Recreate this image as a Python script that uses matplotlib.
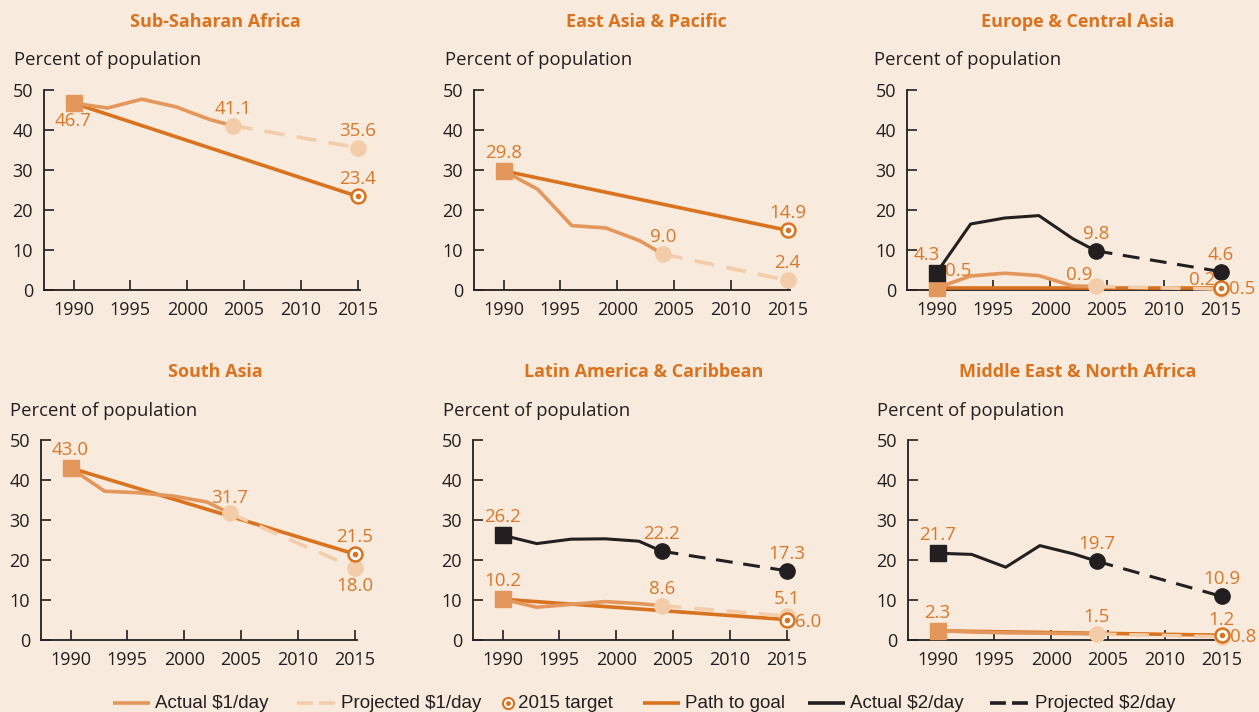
import matplotlib
matplotlib.use("Agg")
import matplotlib.pyplot as plt
from matplotlib.lines import Line2D

# ---------------- data ----------------
regions = ["Sub-Saharan Africa", "East Asia & Pacific", "Europe & Central Asia",
           "South Asia", "Latin America & Caribbean", "Middle East & North Africa"]
actual_years = [1990, 1993, 1996, 1999, 2002, 2004]
proj_years = [2004, 2015]
path_years = [1990, 2015]

actual_1 = [
    [46.7, 45.5, 47.7, 45.8, 42.6, 41.1],
    [29.8, 25.2, 16.1, 15.5, 12.3, 9.0],
    [0.5, 3.5, 4.2, 3.6, 1.0, 0.9],
    [43.0, 37.2, 36.8, 36.0, 34.5, 31.7],
    [10.2, 8.2, 8.9, 9.6, 9.1, 8.6],
    [2.3, 2.0, 1.8, 1.7, 1.6, 1.5],
]
proj_1_2015 = [35.6, 2.4, 0.2, 18.0, 6.0, 0.8]
target_2015 = [23.4, 14.9, 0.5, 21.5, 5.1, 1.2]
actual_2 = [
    None,
    None,
    [4.3, 16.5, 18.0, 18.6, 12.8, 9.8],
    None,
    [26.2, 24.1, 25.2, 25.3, 24.7, 22.2],
    [21.7, 21.4, 18.2, 23.6, 21.5, 19.7],
]
proj_2_2015 = [None, None, 4.6, None, 17.3, 10.9]

x_ticks = [1990, 1995, 2000, 2005, 2010, 2015]
y_ticks = [0, 10, 20, 30, 40, 50]
y_label = "Percent of population"
legend_labels = ["Actual $1/day", "Projected $1/day", "2015 target",
                 "Path to goal", "Actual $2/day", "Projected $2/day"]

# ---------------- style ----------------
BG = "#F8EADC"
C_ACT1 = "#E3975C"
C_PROJ1 = "#F3CCA9"
C_PATH = "#D9731F"
C_TXT = "#DA782A"
C_BLK = "#231F20"
FONT = ["Open Sans", "DejaVu Sans"]
plt.rcParams["font.family"] = FONT

W, H = 1259, 712
fig = plt.figure(figsize=(W / 100, H / 100), dpi=100, facecolor=BG)

lefts = [44, 474, 907, 41, 473, 908]
tops = [90, 90, 90, 440, 440, 440]
ax_w, ax_h = 316, 200
title_x = [215, 646, 1078, 215, 644, 1078]
title_y = [22, 22, 22, 372, 372, 372]
plab_x = [14, 445, 874, 10, 443, 877]
plab_y = [60, 60, 60, 411, 411, 411]

DASH = (0, (5.5, 3.5))


# label specs: (value, x-year, offset_px(x,y), ha, va[, y-position])
def labels_for(i):
    a1 = actual_1[i]
    if i == 0:
        return [(a1[0], 1990, (0, -9), "center", "top"),
                (a1[-1], 2004, (0, 8), "center", "bottom"),
                (proj_1_2015[i], 2015, (0, 8), "center", "bottom"),
                (target_2015[i], 2015, (0, 8), "center", "bottom")]
    if i == 1:
        return [(a1[0], 1990, (0, 9), "center", "bottom"),
                (a1[-1], 2004, (0, 8), "center", "bottom"),
                (proj_1_2015[i], 2015, (0, 8), "center", "bottom"),
                (target_2015[i], 2015, (0, 8), "center", "bottom")]
    if i == 2:
        a2 = actual_2[i]
        return [(a2[0], 1990, (-10, 9), "center", "bottom"),
                (a1[0], 1990, (22, 8), "center", "bottom"),
                (a1[-1], 2004, (-17, 2), "center", "bottom"),
                (a2[-1], 2004, (0, 8), "center", "bottom"),
                (proj_2_2015[i], 2015, (0, 8), "center", "bottom"),
                (proj_1_2015[i], 2015, (-19, 0), "center", "bottom"),
                (target_2015[i], 2015, (8, -1), "left", "center")]
    if i == 3:
        return [(a1[0], 1990, (0, 9), "center", "bottom"),
                (a1[-1], 2004, (0, 6), "center", "bottom"),
                (target_2015[i], 2015, (0, 8), "center", "bottom"),
                (proj_1_2015[i], 2015, (0, -9), "center", "top")]
    a2 = actual_2[i]
    return [(a2[0], 1990, (0, 9), "center", "bottom"),
            (a2[-1], 2004, (0, 8), "center", "bottom"),
            (proj_2_2015[i], 2015, (0, 8), "center", "bottom"),
            (a1[0], 1990, (0, 9), "center", "bottom"),
            (a1[-1], 2004, (0, 8), "center", "bottom"),
            (target_2015[i], 2015, (0, 8), "center", "bottom", proj_1_2015[i]),
            (proj_1_2015[i], 2015, (8, -2), "left", "center", target_2015[i])]


for i, name in enumerate(regions):
    l = lefts[i] / W
    b = 1 - (tops[i] + ax_h) / H
    ax = fig.add_axes([l, b, ax_w / W, ax_h / H])
    ax.set_facecolor("none")
    ax.set_xlim(1987.4, 2015.2)
    ax.set_ylim(0, 50)
    for s in ["top", "right"]:
        ax.spines[s].set_visible(False)
    for s in ["left", "bottom"]:
        ax.spines[s].set_color(C_BLK)
        ax.spines[s].set_linewidth(1.3)
    ax.set_xticks(x_ticks)
    ax.set_yticks(y_ticks)
    ax.tick_params(direction="in", length=7, width=1.2, color=C_BLK,
                   labelsize=13, labelcolor=C_BLK)
    ax.tick_params(axis="x", pad=8)
    ax.tick_params(axis="y", pad=8)

    a1 = actual_1[i]
    # path to goal
    ax.plot(path_years, [a1[0], target_2015[i]], color=C_PATH, lw=2.6,
            solid_capstyle="butt", clip_on=False, zorder=3)
    # actual $1
    ax.plot(actual_years, a1, color=C_ACT1, lw=2.6, clip_on=False, zorder=4)
    # projected $1
    ax.plot(proj_years, [a1[-1], proj_1_2015[i]], color=C_PROJ1, lw=2.6,
            ls=DASH, clip_on=False, zorder=4)
    ax.plot([2004, 2015], [a1[-1], proj_1_2015[i]], ls="none", marker="o",
            ms=11, color=C_PROJ1, clip_on=False, zorder=5)
    ax.plot([1990], [a1[0]], ls="none", marker="s", ms=11, color=C_ACT1,
            clip_on=False, zorder=6)
    # $2 series
    if actual_2[i] is not None:
        a2 = actual_2[i]
        ax.plot(actual_years, a2, color=C_BLK, lw=2.2, clip_on=False, zorder=5)
        ax.plot(proj_years, [a2[-1], proj_2_2015[i]], color=C_BLK, lw=2.2,
                ls=DASH, clip_on=False, zorder=5)
        ax.plot([2004, 2015], [a2[-1], proj_2_2015[i]], ls="none", marker="o",
                ms=11, color=C_BLK, clip_on=False, zorder=6)
        ax.plot([1990], [a2[0]], ls="none", marker="s", ms=11, color=C_BLK,
                clip_on=False, zorder=6)
    # target marker
    ax.plot([2015], [target_2015[i]], ls="none", marker="o", ms=10,
            mfc="white", mec=C_PATH, mew=1.8, clip_on=False, zorder=7)
    ax.plot([2015], [target_2015[i]], ls="none", marker="o", ms=3,
            color=C_PATH, clip_on=False, zorder=8)

    # value labels
    for spec in labels_for(i):
        val, xx, off, ha, va = spec[:5]
        ypos = spec[5] if len(spec) > 5 else val
        ax.annotate(f"{val:.1f}", (xx, ypos), xytext=off,
                    textcoords="offset pixels", ha=ha, va=va,
                    fontsize=13.5, color=C_TXT, annotation_clip=False,
                    zorder=9)

    fig.text(title_x[i] / W, 1 - title_y[i] / H, name, ha="center",
             va="center", fontsize=13, fontweight="bold", color=C_PATH)
    fig.text(plab_x[i] / W, 1 - plab_y[i] / H, y_label, ha="left",
             va="center", fontsize=13.3, color=C_BLK)

# ---------------- legend (manual, in figure pixels) ----------------
LEG_Y = 1 - 703 / H
LEG_FONT = {"family": ["Liberation Sans", "DejaVu Sans"], "size": 13.5}
leg_dash = (0, (4.4, 1.7))
# (kind, x0, x1, colour, linestyle, text_x)
leg_items = [
    ("line", 113, 150, C_ACT1, "-", 155),
    ("line", 297, 336, C_PROJ1, leg_dash, 341),
    ("target", 508, 508, C_PATH, None, 518),
    ("line", 643, 680, C_PATH, "-", 685),
    ("line", 808, 845, C_BLK, "-", 850),
    ("line", 990, 1030, C_BLK, leg_dash, 1035),
]
for (kind, x0, x1, col, ls, tx), lab in zip(leg_items, legend_labels):
    if kind == "line":
        fig.add_artist(Line2D([x0 / W, x1 / W], [LEG_Y, LEG_Y], color=col,
                              lw=2.6, ls=ls, solid_capstyle="butt",
                              dash_capstyle="butt",
                              transform=fig.transFigure))
    else:
        fig.add_artist(Line2D([x0 / W], [LEG_Y], ls="none", marker="o", ms=8,
                              mfc="white", mec=col, mew=1.5,
                              transform=fig.transFigure))
        fig.add_artist(Line2D([x0 / W], [LEG_Y], ls="none", marker="o",
                              ms=2.5, color=col, transform=fig.transFigure))
    fig.text(tx / W, LEG_Y, lab, ha="left", va="center", color=C_BLK,
             fontdict=LEG_FONT)

fig.savefig("out.png", dpi=100, facecolor=BG)
